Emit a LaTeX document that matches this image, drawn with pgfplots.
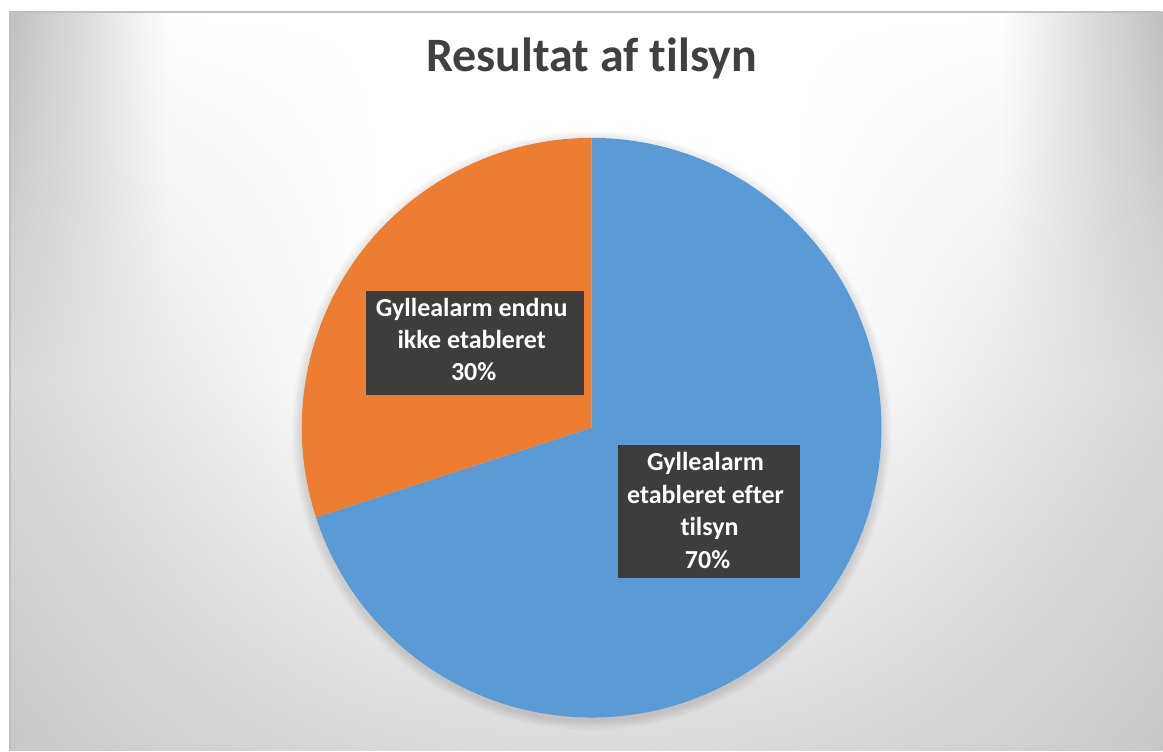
\documentclass[border=0pt]{standalone}
\usepackage{pgfplots}
\pgfplotsset{compat=1.18}
\usepackage{pgfplotstable}
\usepackage{fontspec}
\setmainfont{Carlito}[Ligatures=NoCommon]
\definecolor{pieblue}{HTML}{5B9BD5}
\definecolor{pieorange}{HTML}{ED7D31}
\definecolor{titlegray}{HTML}{404040}
\definecolor{boxgray}{HTML}{3D3D3D}
\definecolor{framegray}{HTML}{BFBFBF}

\pgfdeclarefunctionalshading{chartbg}{\pgfpoint{0bp}{0bp}}{\pgfpoint{1153bp}{739bp}}{}{
 739 exch sub 739 div exch 576.5 sub abs 576.5 div
 dup 0.72 sub 0.28 div dup 0 lt {pop 0} if 0.25 mul
 1 index 0.35 sub 0.65 div dup 0 lt {pop 0} if 0.15 mul
 2 index dup mul 0.08 mul 0.14 add
 4 index 2 mul
 dup 1 lt
 {exch pop 1 index 3 index sub mul exch pop add}
 {1 sub exch 2 index sub mul add exch pop}
 ifelse
 1 exch sub 3 1 roll pop pop dup dup
}

\pgfplotstableread{
name value
orange 30
blue 70
}\piedata

\begin{document}
\begin{tikzpicture}
\pgfplotstablegetelem{0}{value}\of\piedata \let\vOrange\pgfplotsretval
\pgfplotstablegetelem{1}{value}\of\piedata \let\vBlue\pgfplotsretval
\pgfmathsetmacro\aEnd{90+3.6*\vOrange}
\begin{axis}[x=1bp,y=1bp,xmin=0,xmax=1163,ymin=0,ymax=751,hide axis,clip=false,
  anchor=origin,at={(0,0)}]
\fill[white] (axis cs:0,0) rectangle (axis cs:1163,751);
\node[anchor=south west, inner sep=0pt, outer sep=0pt] at (axis cs:10,0) {\pgfuseshading{chartbg}};
\draw[framegray, line width=1.5bp] (axis cs:10,0) -- (axis cs:10,739) -- (axis cs:1163,739);
\pgfplotsinvokeforeach{1,...,10}{
  \fill[black,opacity=0.012] (axis cs:592,320) circle[radius={(290+#1)*1bp}];
}
\fill[pieblue] (axis cs:592,323) -- (axis cs:592,613) arc[start angle=90, end angle={\aEnd-360}, radius=290bp] -- cycle;
\fill[pieorange] (axis cs:592,323) -- (axis cs:592,613) arc[start angle=90, end angle=\aEnd, radius=290bp] -- cycle;
\fill[boxgray] (axis cs:366,460) rectangle (axis cs:584,356);
\fill[boxgray] (axis cs:618,306) rectangle (axis cs:801,173);
\node[anchor=base, titlegray, font=\fontsize{48bp}{56bp}\selectfont\bfseries] at (axis cs:592,679) {Resultat af tilsyn};
\begin{scope}[every node/.style={anchor=base, white, font=\fontsize{26bp}{32bp}\selectfont\bfseries}]
\node at (axis cs:472,434) {Gyllealarm endnu};
\node at (axis cs:472,402) {ikke etableret};
\node at (axis cs:474,370) {\vOrange\%};
\node at (axis cs:706,280) {Gyllealarm};
\node at (axis cs:706,247.5) {etableret efter};
\node at (axis cs:710,215) {tilsyn};
\node at (axis cs:708,182.5) {\vBlue\%};
\end{scope}
\end{axis}
\end{tikzpicture}
\end{document}
